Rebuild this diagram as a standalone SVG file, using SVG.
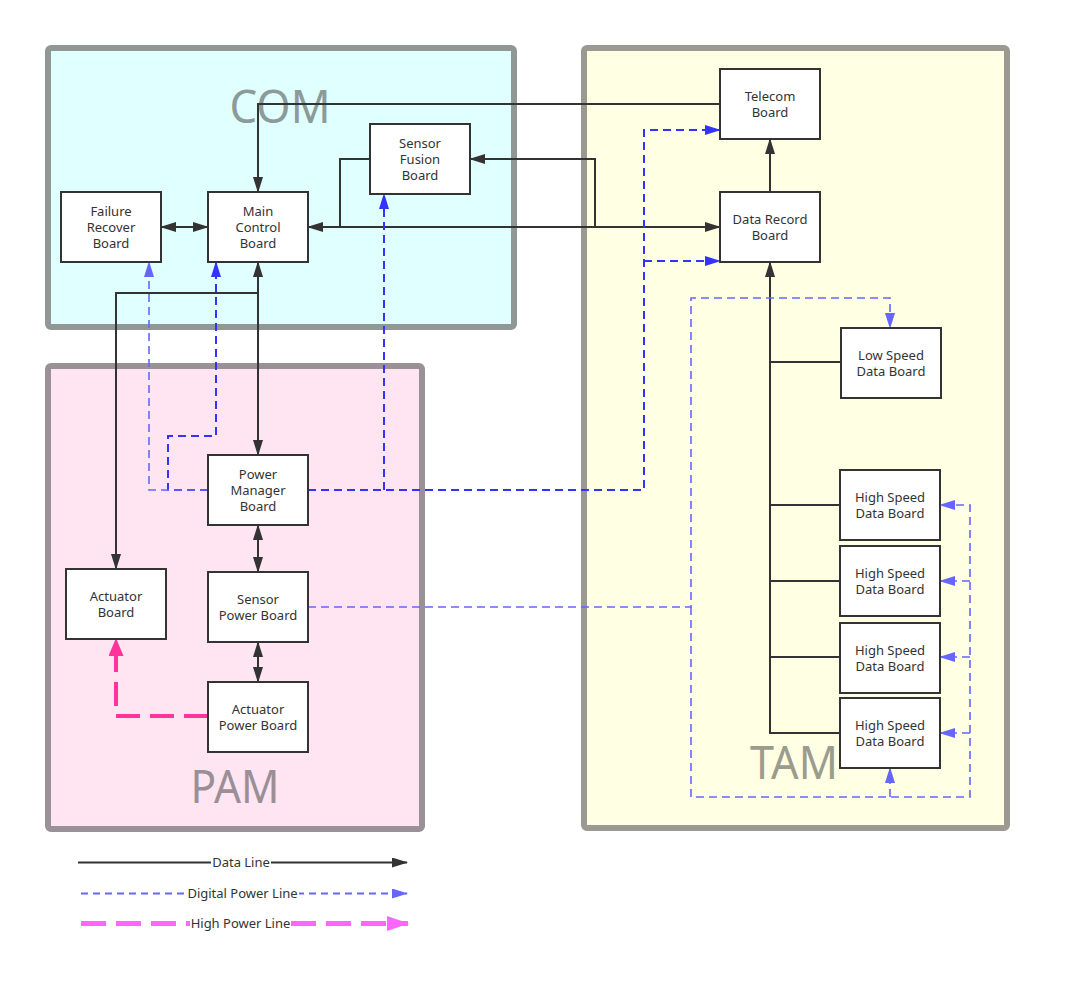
<svg xmlns="http://www.w3.org/2000/svg" width="1070" height="986" viewBox="0 0 1070 986">
<style>
.node rect{fill:#fff;stroke:#333;stroke-width:2}
.lbl{font-family:"Noto Sans","Open Sans","Liberation Sans",sans-serif;font-size:13px;fill:#333;text-anchor:middle}
.grp{font-family:"Noto Sans","Open Sans","Liberation Sans",sans-serif;font-size:45px;text-anchor:middle}
.data{fill:none;stroke:#333;stroke-width:2}
.dpw{fill:none;stroke:#3333ff;stroke-width:2;stroke-dasharray:8 5}
.dpl{fill:none;stroke:#6666ff;stroke-width:1.6;stroke-dasharray:8 5}
.hp{fill:none;stroke:#ff3399;stroke-width:4;stroke-dasharray:24 10}
</style>
<defs>
<marker id="aD" markerUnits="userSpaceOnUse" markerWidth="16" markerHeight="10" viewBox="0 0 16 10" refX="15" refY="5" orient="auto-start-reverse"><path d="M0,0 L16,5 L0,10 Z" fill="#333"/></marker>
<marker id="aB" markerUnits="userSpaceOnUse" markerWidth="16" markerHeight="10" viewBox="0 0 16 10" refX="15" refY="5" orient="auto"><path d="M0,0 L16,5 L0,10 Z" fill="#3333ff"/></marker>
<marker id="aL" markerUnits="userSpaceOnUse" markerWidth="16" markerHeight="10" viewBox="0 0 16 10" refX="15" refY="5" orient="auto"><path d="M0,0 L16,5 L0,10 Z" fill="#6666ff"/></marker>
<marker id="aP" markerUnits="userSpaceOnUse" markerWidth="18" markerHeight="15" viewBox="0 0 18 15" refX="17" refY="7.5" orient="auto"><path d="M0,0 L18,7.5 L0,15 Z" fill="#ff3399"/></marker>
<marker id="aPL" markerUnits="userSpaceOnUse" markerWidth="22" markerHeight="15" viewBox="0 0 22 15" refX="21" refY="7.5" orient="auto"><path d="M0,0 L22,7.5 L0,15 Z" fill="#ff66ff"/></marker>
</defs>
<rect width="1070" height="986" fill="#fff"/>

<g id="COM">
<rect x="48" y="48" width="466" height="279" rx="3" fill="#e0ffff" stroke="#909896" stroke-width="6"/>
<text class="grp" x="280" y="123" fill="#8c9a98" textLength="101" lengthAdjust="spacingAndGlyphs">COM</text>
</g>
<g id="PAM">
<rect x="48" y="366" width="374" height="463" rx="3" fill="#ffe5f2" stroke="#9a9196" stroke-width="6"/>
<text class="grp" x="235" y="803" fill="#9b8f96" textLength="89" lengthAdjust="spacingAndGlyphs">PAM</text>
</g>
<g id="TAM">
<rect x="584" y="48" width="423" height="780" rx="3" fill="#ffffe4" stroke="#9a9a92" stroke-width="6"/>
<text class="grp" x="794" y="779" fill="#9c9c8c" textLength="88" lengthAdjust="spacingAndGlyphs">TAM</text>
</g>

<g id="connectors">
<path class="data" d="M720,104 H258 V192" marker-end="url(#aD)"/>
<path class="data" d="M770,192 V139" marker-end="url(#aD)"/>
<path class="data" d="M308,227 H720" marker-start="url(#aD)" marker-end="url(#aD)"/>
<path class="data" d="M370,159 H340 V227"/>
<path class="data" d="M595,227 V159 H470" marker-end="url(#aD)"/>
<path class="data" d="M161,227 H208" marker-start="url(#aD)" marker-end="url(#aD)"/>
<path class="data" d="M258,262 V455" marker-start="url(#aD)" marker-end="url(#aD)"/>
<path class="data" d="M258,293 H116 V569" marker-end="url(#aD)"/>
<path class="data" d="M258,525 V572" marker-start="url(#aD)" marker-end="url(#aD)"/>
<path class="data" d="M258,642 V682" marker-start="url(#aD)" marker-end="url(#aD)"/>
<path class="data" d="M840,733 H770 V262" marker-end="url(#aD)"/>
<path class="data" d="M770,362 H841"/>
<path class="data" d="M770,505 H840"/>
<path class="data" d="M770,581 H840"/>
<path class="data" d="M770,657 H840"/>
<path class="dpw" d="M308,490 H644 V130 H720" marker-end="url(#aB)"/>
<path class="dpw" d="M644,261 H720" marker-end="url(#aB)"/>
<path class="dpw" d="M384,490 V194" marker-end="url(#aB)"/>
<path class="dpw" d="M208,490 H168 V436 H216 V262" marker-end="url(#aB)"/>
<path class="dpl" d="M208,490 H149 V262" marker-end="url(#aL)"/>
<path class="dpl" d="M308,607 H691 V298 H890 V328" marker-end="url(#aL)"/>
<path class="dpl" d="M691,607 V797 H970 V505 H940" marker-end="url(#aL)"/>
<path class="dpl" d="M970,581 H940" marker-end="url(#aL)"/>
<path class="dpl" d="M970,657 H940" marker-end="url(#aL)"/>
<path class="dpl" d="M970,733 H940" marker-end="url(#aL)"/>
<path class="dpl" d="M890,797 V768" marker-end="url(#aL)"/>
<path class="hp" d="M208,716 H116 V639" marker-end="url(#aP)"/>
</g>

<g id="telecom" class="node"><rect x="720" y="69" width="100" height="70"/><text class="lbl"><tspan x="770" y="101">Telecom</tspan><tspan x="770" y="117">Board</tspan></text></g>
<g id="datarecord" class="node"><rect x="720" y="192" width="100" height="70"/><text class="lbl"><tspan x="770" y="224">Data Record</tspan><tspan x="770" y="240">Board</tspan></text></g>
<g id="sensorfusion" class="node"><rect x="370" y="124" width="100" height="70"/><text class="lbl"><tspan x="420" y="148">Sensor</tspan><tspan x="420" y="164">Fusion</tspan><tspan x="420" y="180">Board</tspan></text></g>
<g id="maincontrol" class="node"><rect x="208" y="192" width="100" height="70"/><text class="lbl"><tspan x="258" y="216">Main</tspan><tspan x="258" y="232">Control</tspan><tspan x="258" y="248">Board</tspan></text></g>
<g id="failurerecover" class="node"><rect x="61" y="192" width="100" height="70"/><text class="lbl"><tspan x="111" y="216">Failure</tspan><tspan x="111" y="232">Recover</tspan><tspan x="111" y="248">Board</tspan></text></g>
<g id="powermanager" class="node"><rect x="208" y="455" width="100" height="70"/><text class="lbl"><tspan x="258" y="479">Power</tspan><tspan x="258" y="495">Manager</tspan><tspan x="258" y="511">Board</tspan></text></g>
<g id="actuator" class="node"><rect x="66" y="569" width="100" height="70"/><text class="lbl"><tspan x="116" y="601">Actuator</tspan><tspan x="116" y="617">Board</tspan></text></g>
<g id="sensorpower" class="node"><rect x="208" y="572" width="100" height="70"/><text class="lbl"><tspan x="258" y="604">Sensor</tspan><tspan x="258" y="620">Power Board</tspan></text></g>
<g id="actuatorpower" class="node"><rect x="208" y="682" width="100" height="70"/><text class="lbl"><tspan x="258" y="714">Actuator</tspan><tspan x="258" y="730">Power Board</tspan></text></g>
<g id="lowspeed" class="node"><rect x="841" y="328" width="100" height="70"/><text class="lbl"><tspan x="891" y="360">Low Speed</tspan><tspan x="891" y="376">Data Board</tspan></text></g>
<g id="highspeed1" class="node"><rect x="840" y="470" width="100" height="70"/><text class="lbl"><tspan x="890" y="502">High Speed</tspan><tspan x="890" y="518">Data Board</tspan></text></g>
<g id="highspeed2" class="node"><rect x="840" y="546" width="100" height="70"/><text class="lbl"><tspan x="890" y="578">High Speed</tspan><tspan x="890" y="594">Data Board</tspan></text></g>
<g id="highspeed3" class="node"><rect x="840" y="623" width="100" height="70"/><text class="lbl"><tspan x="890" y="655">High Speed</tspan><tspan x="890" y="671">Data Board</tspan></text></g>
<g id="highspeed4" class="node"><rect x="840" y="698" width="100" height="70"/><text class="lbl"><tspan x="890" y="730">High Speed</tspan><tspan x="890" y="746">Data Board</tspan></text></g>

<g id="legend">
<path class="data" d="M78,862.5 H407" marker-end="url(#aD)"/>
<rect x="211" y="853" width="60" height="18" fill="#fff"/>
<text class="lbl" x="241" y="867">Data Line</text>
<path fill="none" stroke="#6666ff" stroke-width="2" stroke-dasharray="7 5" d="M81,893.5 H407" marker-end="url(#aL)"/>
<rect x="186" y="884" width="113" height="18" fill="#fff"/>
<text class="lbl" x="242.5" y="898">Digital Power Line</text>
<path fill="none" stroke="#ff66ff" stroke-width="5" stroke-dasharray="25 10" d="M81,923.5 H408" marker-end="url(#aPL)"/>
<rect x="190" y="914" width="101" height="18" fill="#fff"/>
<text class="lbl" x="240.5" y="928">High Power Line</text>
</g>
</svg>
